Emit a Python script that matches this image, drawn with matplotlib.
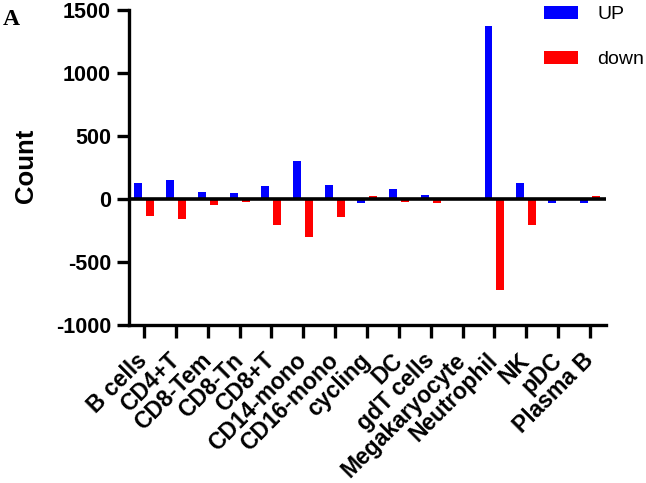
import matplotlib
matplotlib.use("Agg")
import matplotlib.pyplot as plt
import numpy as np
from matplotlib.patches import Patch

categories = ["B cells", "CD4+T", "CD8-Tem", "CD8-Tn", "CD8+T", "CD14-mono",
              "CD16-mono", "cycling", "DC", "gdT cells", "Megakaryocyte",
              "Neutrophil", "NK", "pDC", "Plasma B"]
up_values = [125, 150, 58, 45, 105, 305, 115, -30, 80, 30, 0, 1375, 125, -35, -35]
down_values = [-135, -155, -50, -25, -205, -300, -145, 25, -20, -30, 0, -720, -210, 0, 25]
yticks = [-1000, -500, 0, 500, 1000, 1500]

plt.rcParams['font.family'] = ['Liberation Sans', 'DejaVu Sans']

fig = plt.figure(figsize=(6.46, 4.83), dpi=100)
ax = fig.add_axes([129/646, 1-325/483, (606-129)/646, (325-10)/483])

x = np.arange(len(categories))
off = 0.188
w = 0.25
ax.bar(x - off, up_values, width=w, color="#0000FF", zorder=2)
ax.bar(x + off, down_values, width=w, color="#FF0000", zorder=2)
ax.axhline(0, color="black", lw=2.6, zorder=3)

ax.set_xlim(-0.47, 14.5)
ax.set_ylim(-1000, 1500)
ax.set_yticks(yticks)
ax.set_yticklabels([str(v) for v in yticks], fontsize=15.5, fontweight='bold')
ax.set_xticks(x)
ax.set_xticklabels(categories, rotation=45, ha='right', va='center',
                   rotation_mode='anchor', fontsize=16.5, fontweight='bold')

for s in ['top', 'right']:
    ax.spines[s].set_visible(False)
for s in ['left', 'bottom']:
    ax.spines[s].set_linewidth(2.4)
ax.tick_params(axis='both', width=2.4, length=9)
ax.tick_params(axis='y', pad=4)
ax.tick_params(axis='x', pad=14)

ax.set_ylabel("Count", fontsize=18.5, fontweight='bold')
ax.yaxis.set_label_coords(-0.19, 0.506)

handles = [Patch(facecolor="#0000FF"), Patch(facecolor="#FF0000")]
fig.legend(handles, ["UP", "down"], loc='upper left',
           bbox_to_anchor=(544/646, 1-6/483), frameon=False, fontsize=14,
           handlelength=1.75, handleheight=0.62, handletextpad=1.0,
           labelspacing=1.45, borderpad=0, borderaxespad=0)

fig.text(3/646, 1-25/483, "A", family='Liberation Serif', fontweight='bold',
         fontsize=17)

fig.savefig("out.png", dpi=100)
